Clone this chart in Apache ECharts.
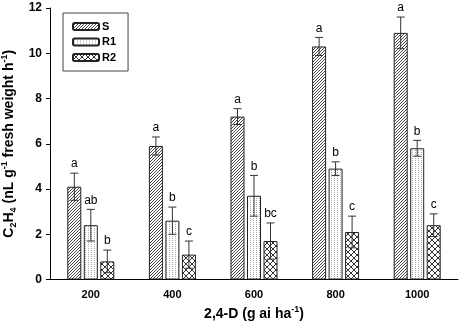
<!DOCTYPE html>
<html>
<head>
<meta charset="utf-8">
<script src="https://cdn.jsdelivr.net/npm/echarts@6/dist/echarts.min.js"></script>
<style>
  html, body { margin: 0; padding: 0; background: #fff; }
  #main { width: 462px; height: 324px; }
</style>
</head>
<body>
<div id="main"></div>
<script>
// 2,4-D doses
var doses = ['200', '400', '600', '800', '1000'];
var names = ['S', 'R1', 'R2'];
// means
var sMean = [4.1, 5.9, 7.2, 10.3, 10.9];
var r1Mean = [2.4, 2.6, 3.7, 4.9, 5.8];
var r2Mean = [0.8, 1.1, 1.7, 2.1, 2.4];
// error (+/-)
var sErr = [0.6, 0.4, 0.35, 0.4, 0.7];
var r1Err = [0.7, 0.6, 0.9, 0.3, 0.35];
var r2Err = [0.5, 0.6, 0.8, 0.7, 0.5];
// letters
var sLetter = ['a', 'a', 'a', 'a', 'a'];
var r1Letter = ['ab', 'b', 'b', 'b', 'b'];
var r2Letter = ['b', 'c', 'bc', 'c', 'c'];
var yTicks = [0, 2, 4, 6, 8, 10, 12];

var FONT = 'Arial, "Liberation Sans", sans-serif';
var barW = 14, gapPx = 2.5;

// hatch patterns
function makeTile(w, h, draw) {
  var c = document.createElement('canvas');
  c.width = w; c.height = h;
  var ctx = c.getContext('2d');
  ctx.fillStyle = '#fff';
  ctx.fillRect(0, 0, w, h);
  draw(ctx, w, h);
  return c;
}
var hatchS = makeTile(3, 3, function(ctx, n) {
  ctx.strokeStyle = '#333';
  ctx.lineWidth = 0.9;
  ctx.beginPath();
  ctx.moveTo(-1, n + 1); ctx.lineTo(n + 1, -1);
  ctx.moveTo(-1, 1); ctx.lineTo(1, -1);
  ctx.moveTo(n - 1, n + 1); ctx.lineTo(n + 1, n - 1);
  ctx.stroke();
});
var hatchR1 = makeTile(3, 2, function(ctx) {
  ctx.fillStyle = '#a8a8a8';
  ctx.fillRect(1, 0, 1, 1);
});
var hatchR2 = makeTile(6, 6, function(ctx, n) {
  ctx.strokeStyle = '#333';
  ctx.lineWidth = 1;
  ctx.beginPath();
  ctx.moveTo(0, 0); ctx.lineTo(n, n);
  ctx.moveTo(0, n); ctx.lineTo(n, 0);
  ctx.stroke();
});
var fills = [hatchS, hatchR1, hatchR2];

var means = [sMean, r1Mean, r2Mean];
var errs = [sErr, r1Err, r2Err];
var letters = [sLetter, r1Letter, r2Letter];

var chart = echarts.init(document.getElementById('main'));

var series = [];
for (var k = 0; k < 3; k++) {
  series.push({
    name: names[k],
    type: 'bar',
    barWidth: barW,
    barGap: (gapPx / barW * 100) + '%',
    data: means[k],
    itemStyle: {
      color: { image: fills[k], repeat: 'repeat' },
      borderColor: '#222',
      borderWidth: 1
    },
    emphasis: { disabled: true }
  });
}

// error bars + letters
for (var k = 0; k < 3; k++) {
  (function(k) {
    var d = [];
    for (var i = 0; i < doses.length; i++) d.push([i, means[k][i], errs[k][i]]);
    series.push({
      type: 'custom',
      data: d,
      z: 5,
      silent: true,
      renderItem: function(params, api) {
        var i = api.value(0), m = api.value(1), e = api.value(2);
        var off = (k - 1) * (barW + gapPx);
        var top = api.coord([i, m + e]);
        var bot = api.coord([i, m - e]);
        var x = top[0] + off, cap = 4;
        return {
          type: 'group',
          children: [
            { type: 'line', shape: { x1: x, y1: top[1], x2: x, y2: bot[1] }, style: { stroke: '#333', lineWidth: 1 } },
            { type: 'line', shape: { x1: x - cap, y1: top[1], x2: x + cap, y2: top[1] }, style: { stroke: '#333', lineWidth: 1 } },
            { type: 'line', shape: { x1: x - cap, y1: bot[1], x2: x + cap, y2: bot[1] }, style: { stroke: '#333', lineWidth: 1 } },
            { type: 'text', style: { text: letters[k][params.dataIndex], x: x, y: top[1] - 3, align: 'center', verticalAlign: 'bottom', font: '12px ' + FONT, fill: '#000' } }
          ]
        };
      }
    });
  })(k);
}

var option = {
  animation: false,
  grid: { left: 50, right: 4, top: 8, bottom: 44.5, containLabel: false, outerBoundsMode: 'none' },
  legend: {
    data: names,
    orient: 'vertical',
    left: 63,
    top: 13,
    padding: [8, 12, 8, 9],
    itemGap: 4.5,
    itemWidth: 26,
    itemHeight: 7,
    borderColor: '#444',
    borderWidth: 1,
    selectedMode: false,
    textStyle: { fontFamily: FONT, fontSize: 11, fontWeight: 'bold', color: '#000', padding: [0, 0, 0, -2] }
  },
  xAxis: {
    type: 'category',
    data: doses,
    axisLine: { lineStyle: { color: '#000', width: 1 } },
    axisTick: { alignWithLabel: true, length: 4, lineStyle: { color: '#000' } },
    axisLabel: { margin: 10, fontFamily: FONT, fontSize: 11, fontWeight: 'bold', color: '#000' },
    name: '{t|2,4-D (g ai ha}{sup|-1}{t|)}',
    nameLocation: 'middle',
    nameGap: 23,
    nameTextStyle: {
      rich: {
        t: { fontFamily: FONT, fontSize: 14, fontWeight: 'bold', color: '#000', lineHeight: 18 },
        sup: { fontFamily: FONT, fontSize: 9, fontWeight: 'bold', color: '#000', lineHeight: 9, verticalAlign: 'top' }
      }
    }
  },
  yAxis: {
    type: 'value',
    min: 0,
    max: 12,
    interval: 2,
    splitLine: { show: false },
    axisLine: { show: true, lineStyle: { color: '#000', width: 1 } },
    axisTick: { show: true, length: 4, lineStyle: { color: '#000' } },
    axisLabel: { margin: 8, fontFamily: FONT, fontSize: 12, fontWeight: 'bold', color: '#000',
      formatter: function(v) { return yTicks.indexOf(v) >= 0 ? String(v) : ''; } },
    name: '{t|C}{sub|2}{t|H}{sub|4}{t| (nL g}{sup|-1}{t| fresh weight h}{sup|-1}{t|)}',
    nameLocation: 'middle',
    nameGap: 26,
    nameRotate: 90,
    nameTextStyle: {
      rich: {
        t: { fontFamily: FONT, fontSize: 14, fontWeight: 'bold', color: '#000', lineHeight: 18 },
        sub: { fontFamily: FONT, fontSize: 9, fontWeight: 'bold', color: '#000', lineHeight: 9, verticalAlign: 'bottom' },
        sup: { fontFamily: FONT, fontSize: 9, fontWeight: 'bold', color: '#000', lineHeight: 9, verticalAlign: 'top' }
      }
    }
  },
  series: series
};

chart.setOption(option);
</script>
</body>
</html>
